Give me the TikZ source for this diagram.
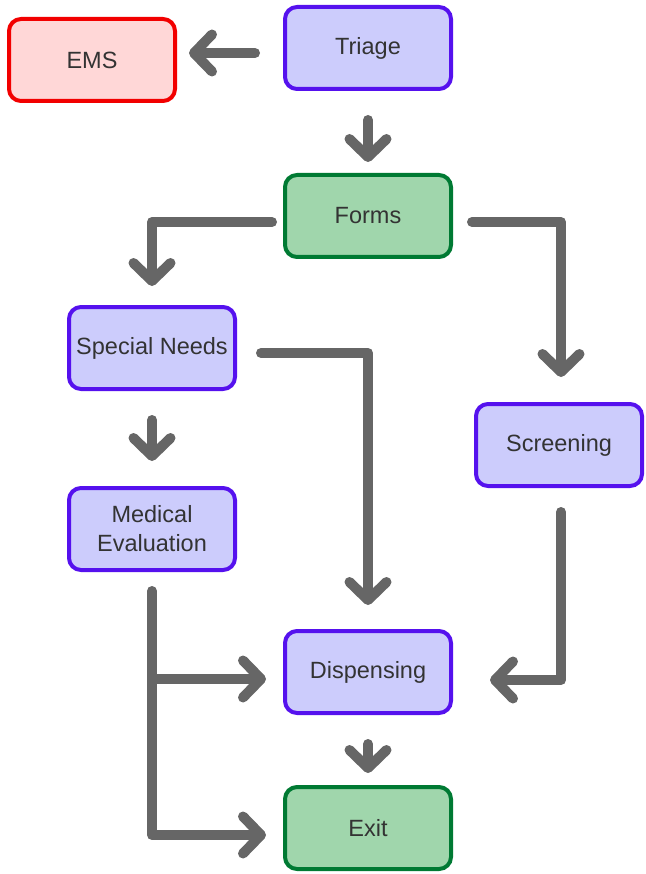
\documentclass[tikz,border=0pt]{standalone}
\usepackage{fontspec}
\setmainfont{Liberation Sans}
\usetikzlibrary{arrows.meta}

\definecolor{lavfill}{RGB}{204,204,252}
\definecolor{lavdraw}{RGB}{85,17,238}
\definecolor{grnfill}{RGB}{160,214,172}
\definecolor{grndraw}{RGB}{0,122,51}
\definecolor{redfill}{RGB}{255,215,215}
\definecolor{reddraw}{RGB}{242,0,0}
\definecolor{flowgray}{RGB}{102,102,102}
\definecolor{txtgray}{RGB}{51,51,51}

\tikzset{
  stepbox/.style={rectangle, rounded corners=12pt, line width=4pt,
    minimum width=166pt, minimum height=82pt, inner sep=0pt, align=center,
    text=txtgray, font=\fontsize{23.5}{29}\selectfont},
  bluebox/.style={stepbox, draw=lavdraw, fill=lavfill},
  greenbox/.style={stepbox, draw=grndraw, fill=grnfill},
  redbox/.style={stepbox, draw=reddraw, fill=redfill},
  flow/.style={draw=flowgray, line width=10pt, line cap=round, line join=round,
    -{Straight Barb[length=18pt 0, width=37pt 0, line cap=round, line join=round]}}
}

\begin{document}
\begin{tikzpicture}[x=1pt, y=1pt]
  \useasboundingbox (0,0) rectangle (645,-874);

  % process steps
  \node[redbox]   (ems)      at (92,-60)  {EMS};
  \node[bluebox]  (triage)   at (368,-48) {Triage};
  \node[greenbox] (forms)    at (368,-216) {Forms};
  \node[bluebox]  (special)  at (152,-348) {Special Needs};
  \node[bluebox]  (medical)  at (152,-529) {Medical\\Evaluation};
  \node[bluebox]  (screen)   at (559,-445) {Screening};
  \node[bluebox]  (dispense) at (368,-672) {Dispensing};
  \node[greenbox] (exit)     at (368,-828) {Exit};

  % flow between steps
  \coordinate (triout) at ([yshift=-5pt]triage.west);
  \draw[flow, shorten <=28pt, shorten >=12pt] (triout) -- (ems.east |- triout);
  \draw[flow, shorten <=29pt, shorten >=11pt] (triage.south) -- (forms.north);
  \draw[flow, shorten <=11pt, shorten >=19pt] ([yshift=-6pt]forms.west) -| (special.north);
  \draw[flow, shorten <=19pt, shorten >=25pt] ([yshift=-6pt]forms.east) -| ([xshift=2pt]screen.north);
  \draw[flow, shorten <=29pt, shorten >=25pt] (special.south) -- (medical.north);
  \draw[flow, shorten <=24pt, shorten >=24pt] ([yshift=-5pt]special.east) -| (dispense.north);
  \draw[flow, shorten <=24pt, shorten >=37pt] ([xshift=2pt]screen.south) |- ([yshift=-8pt]dispense.east);
  \draw[flow, shorten <=29pt, shorten >=12pt] (dispense.south) -- (exit.north);

  % evaluation leads to dispensing or straight to the exit
  \draw[flow, shorten <=19pt, shorten >=17pt] (medical.south) |- ([yshift=-7pt]exit.west);
  \coordinate (dispin) at ([yshift=-7pt]dispense.west);
  \coordinate (branch) at (medical.south |- dispin);
  \draw[flow, line cap=butt, shorten >=17pt] (branch) -- (dispin);
\end{tikzpicture}
\end{document}
